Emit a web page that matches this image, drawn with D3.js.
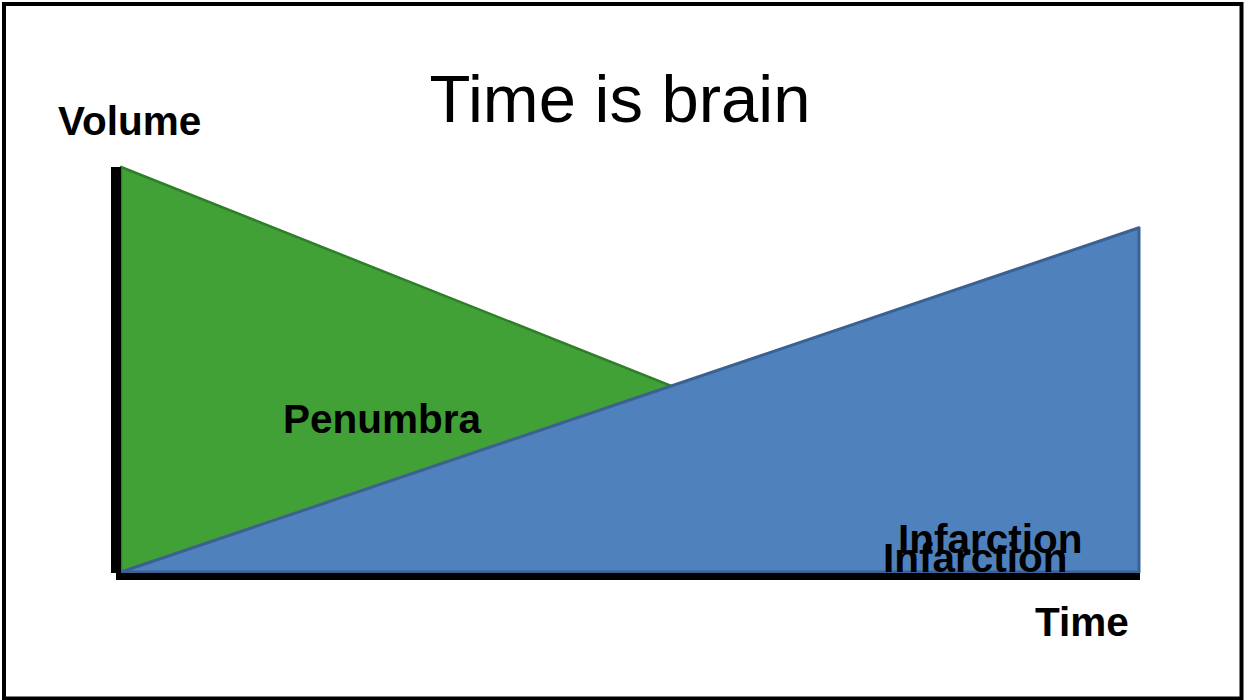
<!DOCTYPE html>
<html>
<head>
<meta charset="utf-8">
<script src="https://cdn.jsdelivr.net/npm/d3@7"></script>
<style>
  body { margin: 0; background: #fff; }
  text { font-family: "Liberation Sans", Arial, sans-serif; fill: #000; }
</style>
</head>
<body>
<div id="chart"></div>
<script>
// time runs 0..10, volume 0..100
const times = [0, 10];
const penumbraVolume = [100, 0];
const infarctionVolume = [0, 85];
const seriesNames = ["Penumbra", "Infarction"];

let width = 1244,
    height = 700;

let svg = d3.select("#chart").append("svg")
    .attr("width", width)
    .attr("height", height);

// outer frame
svg.append("rect")
    .attr("x", 4).attr("y", 4)
    .attr("width", 1237.5).attr("height", 694.5)
    .attr("fill", "none")
    .attr("stroke", "#000")
    .attr("stroke-width", 4);

let xScale = d3.scaleLinear().domain([0, 10]).range([121, 1139]);
let yScale = d3.scaleLinear().domain([0, 100]).range([572, 167]);

let toPts = vals => times.map((t, i) => ({ t: t, v: vals[i] }));

let area = d3.area()
    .x(d => xScale(d.t))
    .y0(yScale(0))
    .y1(d => yScale(d.v));

/* Penumbra (green) */
svg.append("path")
    .attr("d", area(toPts(penumbraVolume)))
    .attr("fill", "#41a136")
    .attr("stroke", "#2f7e2a")
    .attr("stroke-width", 2.5)
    .attr("stroke-linejoin", "round");

/* Infarction (blue) */
svg.append("path")
    .attr("d", area(toPts(infarctionVolume)))
    .attr("fill", "#4f81bd")
    .attr("stroke", "#3b6192")
    .attr("stroke-width", 3)
    .attr("stroke-linejoin", "round");

/* Axes: thick black bars */
svg.append("line")
    .attr("x1", 116).attr("x2", 116)
    .attr("y1", yScale(100)).attr("y2", yScale(0) + 1)
    .attr("stroke", "#000").attr("stroke-width", 10);

svg.append("line")
    .attr("x1", 116).attr("x2", xScale(10) + 1)
    .attr("y1", 576.5).attr("y2", 576.5)
    .attr("stroke", "#000").attr("stroke-width", 7);

/* Labels */
svg.append("text")
    .attr("x", 620).attr("y", 122)
    .attr("text-anchor", "middle")
    .style("font-size", "67px")
    .text("Time is brain");

svg.append("text")
    .attr("x", 58).attr("y", 135)
    .style("font-size", "40.5px").style("font-weight", "bold")
    .text("Volume");

svg.append("text")
    .attr("x", 1035).attr("y", 636)
    .style("font-size", "40.5px").style("font-weight", "bold")
    .text("Time");

svg.append("text")
    .attr("x", 283).attr("y", 433)
    .style("font-size", "40.5px").style("font-weight", "bold")
    .text(seriesNames[0]);

// the label appears twice, one copy sits lower and behind the axis
svg.insert("text", "line")
    .attr("x", 883).attr("y", 572)
    .style("font-size", "40.5px").style("font-weight", "bold")
    .text(seriesNames[1]);

svg.append("text")
    .attr("x", 898).attr("y", 553)
    .style("font-size", "40.5px").style("font-weight", "bold")
    .text(seriesNames[1]);
</script>
</body>
</html>
